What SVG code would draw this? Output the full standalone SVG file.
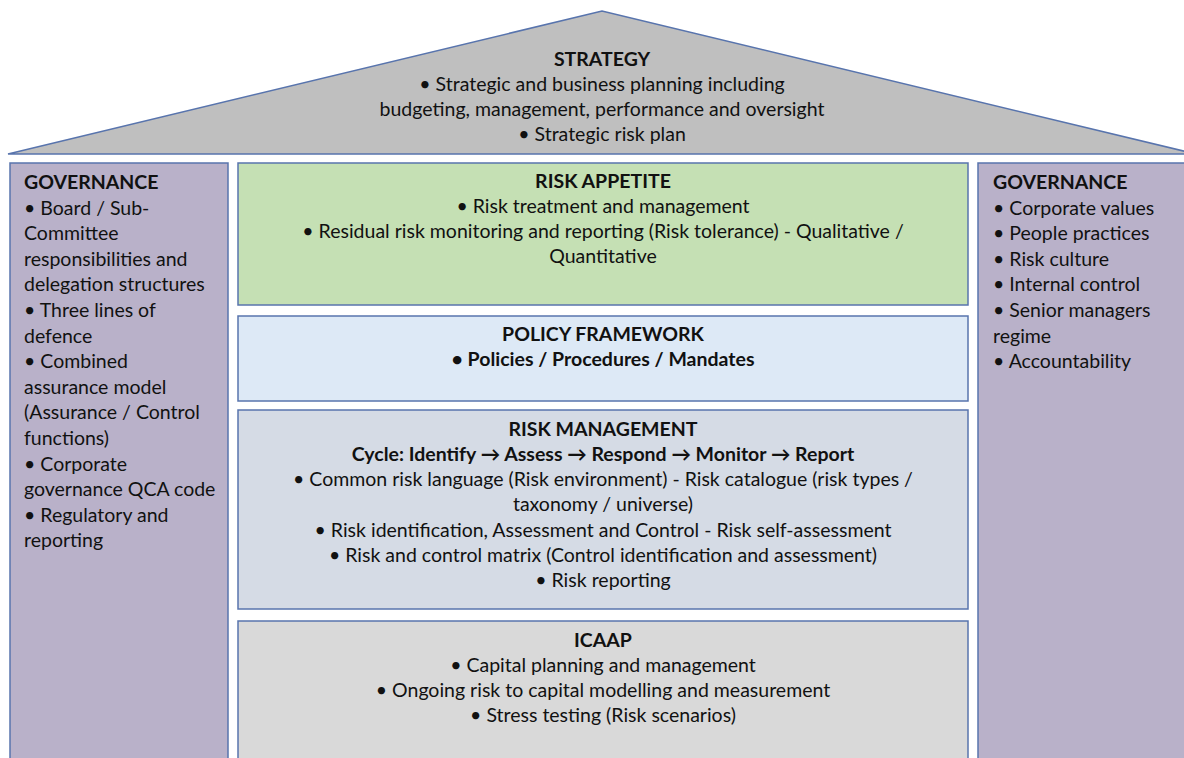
<svg xmlns="http://www.w3.org/2000/svg" width="1184" height="758" viewBox="0 0 1184 758">
  <style>
    .edge { stroke: #5874ad; stroke-width: 1.5; }
    .roof { fill: #bfbfbf; }
    .gov { fill: #b9b1c9; }
    .appetite { fill: #c5e0b4; }
    .policy { fill: #dde9f6; }
    .riskmgmt { fill: #d5dbe5; }
    .icaap { fill: #d9d9d9; }
    text { font-family: Lato, "Open Sans", "Liberation Sans", sans-serif; font-size: 19.5px; fill: #111; }
    .c { text-anchor: middle; }
    .b { font-weight: bold; }
  </style>
  <rect x="0" y="0" width="1184" height="758" fill="#ffffff"/>

  <!-- roof -->
  <g id="strategy">
    <polygon class="roof edge" points="8,154 602,11 1196,154"/>
    <text class="c b" x="602" y="66">STRATEGY</text>
    <text class="c" x="602" y="91">• Strategic and business planning including</text>
    <text class="c" x="602" y="116">budgeting, management, performance and oversight</text>
    <text class="c" x="602" y="141">• Strategic risk plan</text>
  </g>

  <!-- left pillar -->
  <g id="governance-left">
    <rect class="gov edge" x="10" y="163" width="218" height="610"/>
    <text class="b" x="24" y="189">GOVERNANCE</text>
    <text x="24" y="214.6">• Board / Sub-</text>
    <text x="24" y="240.2">Committee</text>
    <text x="24" y="265.8">responsibilities and</text>
    <text x="24" y="291.4">delegation structures</text>
    <text x="24" y="317">• Three lines of</text>
    <text x="24" y="342.6">defence</text>
    <text x="24" y="368.2">• Combined</text>
    <text x="24" y="393.8">assurance model</text>
    <text x="24" y="419.4">(Assurance / Control</text>
    <text x="24" y="445">functions)</text>
    <text x="24" y="470.6">• Corporate</text>
    <text x="24" y="496.2">governance QCA code</text>
    <text x="24" y="521.8">• Regulatory and</text>
    <text x="24" y="547.4">reporting</text>
  </g>

  <!-- right pillar -->
  <g id="governance-right">
    <rect class="gov edge" x="978" y="163" width="230" height="610"/>
    <text class="b" x="993" y="189">GOVERNANCE</text>
    <text x="993" y="214.6">• Corporate values</text>
    <text x="993" y="240.2">• People practices</text>
    <text x="993" y="265.8">• Risk culture</text>
    <text x="993" y="291.4">• Internal control</text>
    <text x="993" y="317">• Senior managers</text>
    <text x="993" y="342.6">regime</text>
    <text x="993" y="368.2">• Accountability</text>
  </g>

  <g id="risk-appetite">
    <rect class="appetite edge" x="238" y="163" width="730" height="142"/>
    <text class="c b" x="603" y="188">RISK APPETITE</text>
    <text class="c" x="603" y="213">• Risk treatment and management</text>
    <text class="c" x="603" y="238">• Residual risk monitoring and reporting (Risk tolerance) - Qualitative /</text>
    <text class="c" x="603" y="263">Quantitative</text>
  </g>

  <g id="policy-framework">
    <rect class="policy edge" x="238" y="316" width="730" height="85"/>
    <text class="c b" x="603" y="341">POLICY FRAMEWORK</text>
    <text class="c b" x="603" y="366">• Policies / Procedures / Mandates</text>
  </g>

  <g id="risk-management">
    <rect class="riskmgmt edge" x="238" y="410" width="730" height="199"/>
    <text class="c b" x="603" y="436">RISK MANAGEMENT</text>
    <text class="c b" x="603" y="461">Cycle: Identify → Assess → Respond → Monitor → Report</text>
    <text class="c" x="603" y="486">• Common risk language (Risk environment) - Risk catalogue (risk types /</text>
    <text class="c" x="603" y="511">taxonomy / universe)</text>
    <text class="c" x="603" y="537">• Risk identification, Assessment and Control - Risk self-assessment</text>
    <text class="c" x="603" y="562">• Risk and control matrix (Control identification and assessment)</text>
    <text class="c" x="603" y="587">• Risk reporting</text>
  </g>

  <g id="icaap">
    <rect class="icaap edge" x="238" y="621" width="730" height="160"/>
    <text class="c b" x="603" y="647">ICAAP</text>
    <text class="c" x="603" y="672">• Capital planning and management</text>
    <text class="c" x="603" y="697">• Ongoing risk to capital modelling and measurement</text>
    <text class="c" x="603" y="722">• Stress testing (Risk scenarios)</text>
  </g>

  <!-- the house layout has no connectors -->
  <g id="connectors"/>
</svg>
